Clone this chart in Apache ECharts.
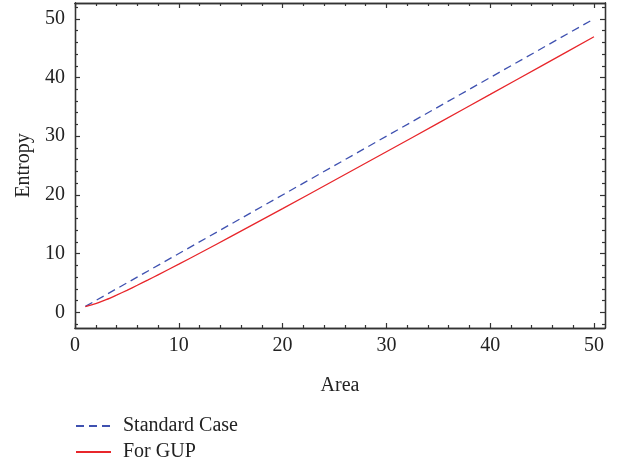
<!DOCTYPE html>
<html>
<head>
<meta charset="utf-8">
<script src="https://cdn.jsdelivr.net/npm/echarts@6/dist/echarts.min.js"></script>
<style>html,body{margin:0;padding:0;background:#fff}#c{width:622px;height:466px}</style>
</head>
<body>
<div id="c"></div>
<script>
// ---- data ----
const standardArea = [1, 50];
const standardEntropy = [1, 50];
const gupArea = [1, 2, 3, 4, 5, 6, 7, 8, 10, 12, 15, 20, 25, 30, 35, 40, 45, 50];
const gupEntropy = [0.95, 1.46, 2.14, 2.92, 3.74, 4.60, 5.48, 6.38, 8.20, 10.06, 12.89, 17.66, 22.49, 27.35, 32.23, 37.12, 42.03, 46.95];
const seriesNames = ['Standard Case', 'For GUP'];
const xMajorTicks = [0, 10, 20, 30, 40, 50];
const xMinorTicks = [2, 4, 6, 8, 12, 14, 16, 18, 22, 24, 26, 28, 32, 34, 36, 38, 42, 44, 46, 48];
const yMajorTicks = [0, 10, 20, 30, 40, 50];
const yMinorTicks = [-2, 2, 4, 6, 8, 12, 14, 16, 18, 22, 24, 26, 28, 32, 34, 36, 38, 42, 44, 46, 48, 52];

const FONT = 'Liberation Serif';
const FS = 20;
const AX = '#333';
const xMin = 0, xMax = 51.06, yMin = -2.68, yMax = 52.7;

function mkAxis(kind, pos, ticks, len, labels, name) {
  const a = {
    type: 'value', position: pos,
    min: kind === 'x' ? xMin : yMin, max: kind === 'x' ? xMax : yMax,
    axisLine: { show: true, onZero: false, lineStyle: { color: AX, width: 1.3 } },
    axisTick: { show: true, inside: true, length: len, customValues: ticks, lineStyle: { color: AX, width: 1.2 } },
    axisLabel: { show: false },
    splitLine: { show: false }
  };
  if (labels) {
    a.axisLabel = { show: true, customValues: ticks, color: '#222', fontFamily: FONT, fontSize: FS, margin: kind === 'x' ? 8 : 10 };
  }
  if (name) {
    a.name = name; a.nameLocation = 'middle';
    a.nameTextStyle = { color: '#222', fontFamily: FONT, fontSize: FS };
    a.nameGap = kind === 'x' ? 48 : 41;
  }
  return a;
}

function mkLegend(name, top) {
  return {
    orient: 'vertical', left: 70, top: top,
    itemWidth: 35, itemHeight: 12, itemGap: 8,
    textStyle: { fontFamily: FONT, fontSize: FS, color: '#222', padding: [0, 0, 0, 7] },
    itemStyle: { color: 'rgba(0,0,0,0)', borderWidth: 0, opacity: 0 },
    data: [name]
  };
}

const chart = echarts.init(document.getElementById('c'), null, { renderer: 'canvas' });
chart.setOption({
  animation: false,
  backgroundColor: '#fff',
  grid: { left: 75, right: 17, top: 3, bottom: 138, containLabel: false },
  xAxis: [
    mkAxis('x', 'bottom', xMajorTicks, 5, true, 'Area'),
    mkAxis('x', 'bottom', xMinorTicks, 3, false),
    mkAxis('x', 'top', xMajorTicks, 5, false),
    mkAxis('x', 'top', xMinorTicks, 3, false)
  ],
  yAxis: [
    mkAxis('y', 'left', yMajorTicks, 5, true, 'Entropy'),
    mkAxis('y', 'left', yMinorTicks, 3, false),
    mkAxis('y', 'right', yMajorTicks, 5, false),
    mkAxis('y', 'right', yMinorTicks, 3, false)
  ],
  legend: [mkLegend(seriesNames[0], 411), mkLegend(seriesNames[1], 437)],
  series: [
    {
      name: seriesNames[0], type: 'line', xAxisIndex: 0, yAxisIndex: 0,
      data: standardArea.map((a, i) => [a, standardEntropy[i]]),
      showSymbol: false, symbol: 'none',
      lineStyle: { color: '#3f51b0', width: 1.3, type: [8, 5] },
      itemStyle: { color: '#3f51b0' }
    },
    {
      name: seriesNames[1], type: 'line', xAxisIndex: 0, yAxisIndex: 0,
      data: gupArea.map((a, i) => [a, gupEntropy[i]]),
      showSymbol: false, symbol: 'none', smooth: 0.3,
      lineStyle: { color: '#e8262b', width: 1.3 },
      itemStyle: { color: '#e8262b' }
    }
  ]
});
</script>
</body>
</html>
